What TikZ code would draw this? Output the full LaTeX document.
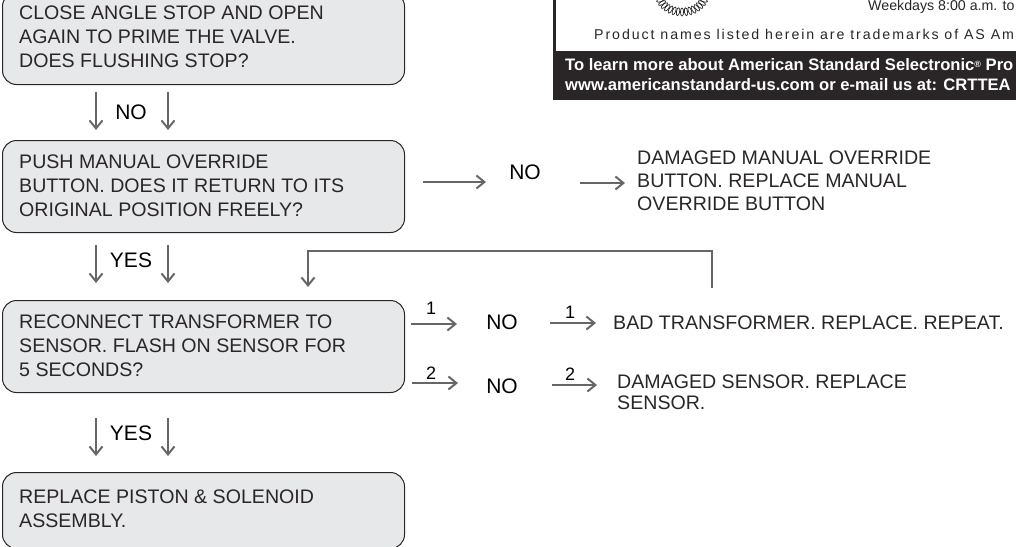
\documentclass[tikz,border=0pt]{standalone}
\usepackage{fontspec}
\setmainfont{Liberation Sans}
\newfontfamily\spacedfont[LetterSpace=13.5]{Liberation Sans}
\definecolor{boxfill}{HTML}{E7E8EA}
\definecolor{arrowgray}{HTML}{666668}
\definecolor{textblack}{HTML}{2A2627}
\usetikzlibrary{arrows.meta}
\tikzset{
  stepbox/.style={draw=textblack,fill=boxfill,line width=1pt,rounded corners=14pt,anchor=north west,minimum width=402pt,inner sep=0pt},
  steptext/.style={anchor=west,align=left,text=textblack,font=\fontsize{19.6}{24}\selectfont,inner sep=0pt},
  notext/.style={text=black,font=\fontsize{21}{24}\selectfont,inner sep=0pt},
  numtext/.style={text=black,font=\fontsize{18}{20}\selectfont,inner sep=0pt},
  flowarrow/.style={draw=arrowgray,line width=2pt,-{Straight Barb[length=8pt,width=13pt,line width=2pt]}},
}
\begin{document}
\begin{tikzpicture}[x=1pt,y=-1pt]
\useasboundingbox (0,0) rectangle (1016,546);
\clip (0,0) rectangle (1016,546);
% boxes on the left
\node[stepbox,minimum height=92pt] (close) at (2,-8) {};
\node[stepbox,minimum height=92pt] (push) at (2,140) {};
\node[stepbox,minimum height=92pt] (reconnect) at (2,300) {};
\node[stepbox,minimum height=76pt] (replace) at (2,472) {};
\node[steptext] (closetext) at (19,37) {CLOSE ANGLE STOP AND OPEN\\AGAIN TO PRIME THE VALVE.\\DOES FLUSHING STOP?};
\node[steptext] (pushtext) at (19,186) {PUSH MANUAL OVERRIDE\\BUTTON. DOES IT RETURN TO ITS\\ORIGINAL POSITION FREELY?};
\node[steptext] (reconnecttext) at (19,346) {RECONNECT TRANSFORMER TO\\SENSOR. FLASH ON SENSOR FOR\\5 SECONDS?};
\node[steptext] (replacetext) at (19,509) {REPLACE PISTON \& SOLENOID\\ASSEMBLY.};
% labels between the boxes
\node[notext] (no1) at (131,112) {NO};
\node[notext] (yes1) at (131,260) {YES};
\node[notext] (yes2) at (131,433) {YES};
% labels on the right
\node[notext] (no2) at (525,172) {NO};
\node[notext] (no3) at (502,322) {NO};
\node[notext] (no4) at (502,386) {NO};
\node[numtext] (num1) at (431,308) {1};
\node[numtext] (num2) at (431,373) {2};
\node[numtext] (num3) at (570,312) {1};
\node[numtext] (num4) at (570,374) {2};
\node[steptext,font=\fontsize{19.6}{23}\selectfont] (damaged) at (637,181) {DAMAGED MANUAL OVERRIDE\\BUTTON. REPLACE MANUAL\\OVERRIDE BUTTON};
\node[steptext] (bad) at (613,323) {BAD TRANSFORMER. REPLACE. REPEAT.};
\node[steptext,font=\fontsize{19.6}{21}\selectfont] (sensor) at (617,392.5) {DAMAGED SENSOR. REPLACE\\SENSOR.};
% free ends of the arrows
\coordinate (a1) at (96,92); \coordinate (a2) at (96,130);
\coordinate (b1) at (168,92); \coordinate (b2) at (168,130);
\coordinate (c1) at (96,245); \coordinate (c2) at (96,283);
\coordinate (d1) at (168,245); \coordinate (d2) at (168,283);
\coordinate (e1) at (96,418); \coordinate (e2) at (96,456);
\coordinate (f1) at (168,418); \coordinate (f2) at (168,456);
\coordinate (g1) at (423,182); \coordinate (g2) at (486,182);
\coordinate (h1) at (580,183); \coordinate (h2) at (625,183);
\coordinate (i1) at (411,324); \coordinate (i2) at (457,324);
\coordinate (j1) at (550,323); \coordinate (j2) at (596,323);
\coordinate (k1) at (412,383); \coordinate (k2) at (458,383);
\coordinate (l1) at (552,385); \coordinate (l2) at (597,385);
\coordinate (m1) at (712,288); \coordinate (m2) at (712,251); \coordinate (m3) at (308,251); \coordinate (m4) at (308,287);
\draw[flowarrow] (a1) -- (a2);
\draw[flowarrow] (b1) -- (b2);
\draw[flowarrow] (c1) -- (c2);
\draw[flowarrow] (d1) -- (d2);
\draw[flowarrow] (e1) -- (e2);
\draw[flowarrow] (f1) -- (f2);
\draw[flowarrow] (g1) -- (g2);
\draw[flowarrow] (h1) -- (h2);
\draw[flowarrow] (i1) -- (i2);
\draw[flowarrow] (j1) -- (j2);
\draw[flowarrow] (k1) -- (k2);
\draw[flowarrow] (l1) -- (l2);
\draw[flowarrow] (m1) -- (m2) -- (m3) -- (m4);
% the panel at the top right
\fill[textblack] (553,-2) rectangle (556,52);
\foreach \a in {200,210,...,340}
  \draw[textblack,line width=.7pt,rotate around={\a+90:({682+23*cos(\a)},{-6-18*sin(\a)})}] ({682+23*cos(\a)},{-6-18*sin(\a)}) ellipse (1.6pt and 4pt);
\node[anchor=west,text=textblack,font=\fontsize{14.2}{16}\selectfont,inner sep=0pt] (hours) at (868,7) {Weekdays 8:00 a.m. to};
\node[anchor=west,text=textblack,font=\fontsize{14.2}{16}\spacedfont,inner sep=0pt] (names) at (594,34) {Product names listed herein are trademarks of AS Am};
\fill[textblack] (553,51) rectangle (1018,100);
\node[anchor=west,align=left,text=white,font=\fontsize{16.6}{20}\selectfont\bfseries,inner sep=0pt] (banner) at (565,75) {To learn more about American Standard Selectronic{\raisebox{3.5pt}{\fontsize{9}{9}\selectfont ®}} Pro\\www.americanstandard-us.com or e-mail us at: CRTTEA};
\end{tikzpicture}
\end{document}
